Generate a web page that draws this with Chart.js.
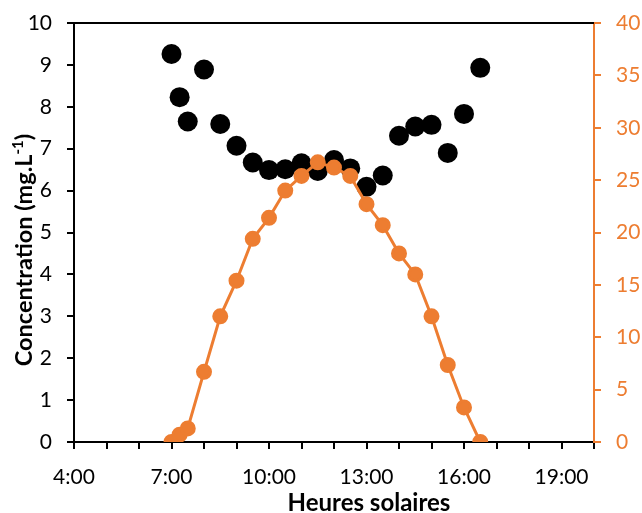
<!DOCTYPE html>
<html>
<head>
<meta charset="utf-8">
<script src="https://cdn.jsdelivr.net/npm/chart.js@4"></script>
<style>
  html, body { margin: 0; padding: 0; background: #fff; }
  #wrap { width: 642px; height: 513px; }
</style>
</head>
<body>
<div id="wrap"><canvas id="chart" width="642" height="513"></canvas></div>
<script>
// heures solaires (decimal hours)
const concHours = [7, 7.25, 7.5, 8, 8.5, 9, 9.5, 10, 10.5, 11, 11.5, 12, 12.5, 13, 13.5, 14, 14.5, 15, 15.5, 16, 16.5];
const concValues = [9.26, 8.23, 7.65, 8.89, 7.59, 7.07, 6.67, 6.49, 6.51, 6.65, 6.47, 6.73, 6.53, 6.09, 6.36, 7.31, 7.53, 7.57, 6.90, 7.83, 8.93];

const lightHours = [7, 7.25, 7.5, 8, 8.5, 9, 9.5, 10, 10.5, 11, 11.5, 12, 12.5, 13, 13.5, 14, 14.5, 15, 15.5, 16, 16.5];
const lightValues = [0, 0.7, 1.3, 6.7, 12.0, 15.4, 19.4, 21.4, 24.0, 25.4, 26.7, 26.2, 25.4, 22.7, 20.7, 18.0, 16.0, 12.0, 7.35, 3.3, 0];

const xLabelHours = [4, 7, 10, 13, 16, 19];

const ORANGE = '#ED7D31';
const FONT = 'Lato, "Open Sans", sans-serif';

const toPoints = (xs, ys) => xs.map((x, i) => ({ x: x, y: ys[i] }));

// top frame line + axis titles (Excel puts them a bit off-centre, with a real superscript)
const decorations = {
  id: 'decorations',
  afterDraw(chart) {
    const { ctx, chartArea } = chart;
    ctx.save();
    ctx.strokeStyle = '#000';
    ctx.lineWidth = 2;
    ctx.beginPath();
    ctx.moveTo(chartArea.left, chartArea.top);
    ctx.lineTo(chartArea.right, chartArea.top);
    ctx.stroke();

    ctx.fillStyle = '#000';
    ctx.textBaseline = 'alphabetic';

    // x title
    ctx.font = 'bold 24px ' + FONT;
    ctx.textAlign = 'center';
    ctx.fillText('Heures solaires', 369, 511);

    // y title, rotated
    const big = 'bold 23.5px ' + FONT;
    const small = 'bold 15px ' + FONT;
    const parts = [
      { t: 'Concentration (mg.L', f: big, dy: 0 },
      { t: '-1', f: small, dy: -9 },
      { t: ')', f: big, dy: 0 }
    ];
    let total = 0;
    parts.forEach(p => { ctx.font = p.f; p.w = ctx.measureText(p.t).width; total += p.w; });
    ctx.translate(32, 250);
    ctx.rotate(-Math.PI / 2);
    ctx.textAlign = 'left';
    let x = -total / 2;
    parts.forEach(p => {
      ctx.font = p.f;
      ctx.fillText(p.t, x, p.dy);
      x += p.w;
    });
    ctx.restore();
  }
};

const noEdgePadding = scale => { scale.paddingTop = 0; scale.paddingBottom = 0; };

new Chart(document.getElementById('chart'), {
  type: 'scatter',
  data: {
    datasets: [
      {
        label: 'Concentration',
        data: toPoints(concHours, concValues),
        yAxisID: 'y',
        showLine: false,
        pointRadius: 10,
        pointBackgroundColor: '#000',
        pointBorderColor: '#000',
        pointBorderWidth: 0,
        order: 1
      },
      {
        label: 'Eclairement',
        data: toPoints(lightHours, lightValues),
        yAxisID: 'y2',
        showLine: true,
        borderColor: ORANGE,
        borderWidth: 3,
        pointRadius: 6.5,
        pointBackgroundColor: ORANGE,
        pointBorderColor: ORANGE,
        order: 0
      }
    ]
  },
  options: {
    responsive: false,
    animation: false,
    layout: { padding: { top: 23, right: 0, bottom: 0, left: 0 } },
    plugins: {
      legend: { display: false },
      tooltip: { enabled: false }
    },
    scales: {
      x: {
        type: 'linear',
        min: 4,
        max: 20,
        afterFit(scale) { scale.height = 71; },
        grid: { drawOnChartArea: false, drawTicks: true, tickLength: 7, color: '#000', lineWidth: 2 },
        border: { display: true, color: '#000', width: 2 },
        ticks: {
          stepSize: 1,
          autoSkip: false,
          maxRotation: 0,
          padding: 16,
          color: '#000',
          font: { family: FONT, size: 21 },
          callback: v => xLabelHours.includes(v) ? v + ':00' : ''
        }
      },
      y: {
        position: 'left',
        min: 0,
        max: 10,
        afterFit(scale) { scale.width = 74; noEdgePadding(scale); },
        grid: { drawOnChartArea: false, drawTicks: true, tickLength: 7, color: '#000', lineWidth: 2 },
        border: { display: true, color: '#000', width: 2 },
        ticks: {
          stepSize: 1,
          padding: 15,
          color: '#000',
          font: { family: FONT, size: 21 }
        }
      },
      y2: {
        position: 'right',
        min: 0,
        max: 40,
        afterFit(scale) { scale.width = 48; noEdgePadding(scale); },
        grid: { drawOnChartArea: false, drawTicks: true, tickLength: 7, color: ORANGE, lineWidth: 2 },
        border: { display: true, color: ORANGE, width: 2 },
        ticks: {
          stepSize: 5,
          padding: 15,
          color: ORANGE,
          font: { family: FONT, size: 21 }
        }
      }
    }
  },
  plugins: [decorations]
});
</script>
</body>
</html>
